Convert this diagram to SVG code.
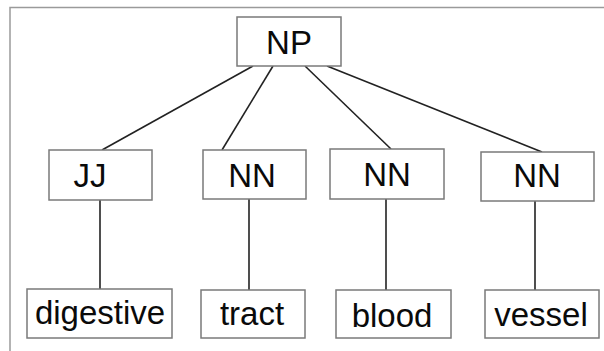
<svg xmlns="http://www.w3.org/2000/svg" width="604" height="351" viewBox="0 0 604 351">
  <style>
    .box { fill: #ffffff; stroke: #7a7a7a; stroke-width: 1.5; }
    .lbl { font-family: "Liberation Sans", Arial, sans-serif; font-size: 33px; fill: #0a0a0a; text-anchor: middle; }
    .edge { stroke: #222222; stroke-width: 1.6; fill: none; }
    .frame { stroke: #9a9a9a; stroke-width: 1.5; fill: none; }
  </style>
  <rect width="604" height="351" fill="#ffffff"/>
  <!-- open frame: top and left edges -->
  <path class="frame" d="M10 351 V7.5 H604"/>

  <g id="connectors">
    <line class="edge" x1="253" y1="66" x2="102" y2="150"/>
    <line class="edge" x1="273" y1="66" x2="222" y2="150"/>
    <line class="edge" x1="305" y1="66" x2="391" y2="149"/>
    <line class="edge" x1="327" y1="66" x2="542" y2="152"/>
    <line class="edge" x1="100" y1="200" x2="100" y2="289"/>
    <line class="edge" x1="249" y1="199" x2="249" y2="290"/>
    <line class="edge" x1="386" y1="199" x2="386" y2="290"/>
    <line class="edge" x1="535" y1="201" x2="535" y2="290"/>
  </g>

  <g id="np">
    <rect class="box" x="237" y="17" width="104" height="49"/>
    <text class="lbl" x="289" y="54">NP</text>
  </g>
  <g id="jj">
    <rect class="box" x="49" y="150" width="103" height="50"/>
    <text class="lbl" x="90" y="187">JJ</text>
  </g>
  <g id="nn1">
    <rect class="box" x="203" y="150" width="103" height="49"/>
    <text class="lbl" x="252" y="187">NN</text>
  </g>
  <g id="nn2">
    <rect class="box" x="330" y="149" width="114" height="50"/>
    <text class="lbl" x="387" y="186">NN</text>
  </g>
  <g id="nn3">
    <rect class="box" x="481" y="152" width="113" height="49"/>
    <text class="lbl" x="537" y="187">NN</text>
  </g>
  <g id="digestive">
    <rect class="box" x="27" y="289" width="145" height="49"/>
    <text class="lbl" x="100" y="324">digestive</text>
  </g>
  <g id="tract">
    <rect class="box" x="201" y="290" width="104" height="48"/>
    <text class="lbl" x="252" y="325">tract</text>
  </g>
  <g id="blood">
    <rect class="box" x="336" y="290" width="115" height="48"/>
    <text class="lbl" x="392" y="327">blood</text>
  </g>
  <g id="vessel">
    <rect class="box" x="485" y="290" width="114" height="48"/>
    <text class="lbl" x="541" y="326">vessel</text>
  </g>
</svg>
